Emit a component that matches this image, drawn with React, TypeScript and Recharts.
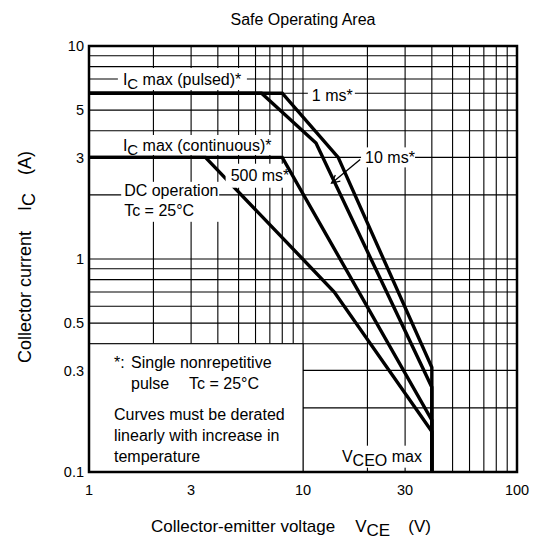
import React from "react";
import {
  LineChart,
  Line,
  XAxis,
  YAxis,
  CartesianGrid,
  ReferenceArea,
  ReferenceDot,
  ReferenceLine,
  Label,
} from "recharts";

// collector-emitter voltage (V) / collector current (A) for each limit curve
const dcV = [1, 3.5, 14, 40, 40];
const dcI = [3, 3, 0.7, 0.155, 0.1];
const ms500V = [1, 8, 40, 40];
const ms500I = [3, 3, 0.175, 0.1];
const ms10V = [1, 6.4, 11.5, 40, 40];
const ms10I = [6, 6, 3.5, 0.25, 0.1];
const ms1V = [1, 8, 14.6, 40, 40];
const ms1I = [6, 6, 3, 0.31, 0.1];

const xTicks = [1, 2, 3, 4, 5, 6, 7, 8, 9, 10, 20, 30, 40, 50, 60, 70, 80, 90, 100];
const xLabels = [1, 3, 10, 30, 100];
const yTicks = [
  0.1, 0.2, 0.3, 0.4, 0.5, 0.6, 0.7, 0.8, 0.9, 1, 2, 3, 4, 5, 6, 7, 8, 9, 10,
];
const yLabels = [0.1, 0.3, 0.5, 1, 3, 5, 10];

const toPoints = (vs: number[], is: number[]) => vs.map((v, k) => ({ v, i: is[k] }));
const series = [
  toPoints(dcV, dcI),
  toPoints(ms500V, ms500I),
  toPoints(ms10V, ms10I),
  toPoints(ms1V, ms1I),
];

const FONT = '"Liberation Sans", Arial, Helvetica, sans-serif';

// white-backed annotation, cx/cy is the text start at its vertical middle
const tag =
  (content: React.ReactNode, w: number, h: number, padL = 5) =>
  (p: any) =>
    (
      <g>
        <rect x={p.cx - padL} y={p.cy - h / 2} width={w} height={h} fill="#fff" />
        <text x={p.cx} y={p.cy} dy="0.35em" fontSize={16} fill="#000" fontFamily={FONT}>
          {content}
        </text>
      </g>
    );

const dcTag = (p: any) => (
  <g fontFamily={FONT} fontSize={16} fill="#000">
    <rect x={p.cx - 3} y={p.cy - 9} width={98} height={40} fill="#fff" />
    <text x={p.cx} y={p.cy} dy="0.35em">DC operation</text>
    <text x={p.cx} y={p.cy + 20} dy="0.35em">Tc = 25°C</text>
  </g>
);

const noteText = (p: any) => (
  <g fontFamily={FONT} fontSize={16} fill="#000">
    <text x={p.cx + 25} y={p.cy + 19} dy="0.35em">*:</text>
    <text x={p.cx + 42} y={p.cy + 19} dy="0.35em">Single nonrepetitive</text>
    <text x={p.cx + 42} y={p.cy + 40} dy="0.35em">pulse</text>
    <text x={p.cx + 100} y={p.cy + 40} dy="0.35em">Tc = 25°C</text>
    <text x={p.cx + 25} y={p.cy + 71} dy="0.35em">Curves must be derated</text>
    <text x={p.cx + 25} y={p.cy + 92} dy="0.35em">linearly with increase in</text>
    <text x={p.cx + 25} y={p.cy + 113} dy="0.35em">temperature</text>
  </g>
);

const arrow = (p: any) => {
  const { x1, y1, x2, y2 } = p;
  const a = Math.atan2(y2 - y1, x2 - x1);
  const L = 9;
  const s = 0.45;
  return (
    <g stroke="#000" strokeWidth={1.3} fill="none">
      <line x1={x1} y1={y1} x2={x2} y2={y2} />
      <polyline
        points={`${x2 - L * Math.cos(a - s)},${y2 - L * Math.sin(a - s)} ${x2},${y2} ${
          x2 - L * Math.cos(a + s)
        },${y2 - L * Math.sin(a + s)}`}
      />
    </g>
  );
};

const xAxisLabel = (p: any) => {
  const { x, y } = p.viewBox;
  return (
    <text x={x + 62} y={y + 60} fontSize={17} fill="#000" fontFamily={FONT}>
      Collector-emitter voltage
      <tspan dx={20}>V</tspan>
      <tspan dy={4}>CE</tspan>
      <tspan dy={-4} dx={18}>(V)</tspan>
    </text>
  );
};

const yAxisLabel = (p: any) => {
  const { y, height } = p.viewBox;
  const cx = 31;
  const cy = y + height / 2 - 2;
  return (
    <text
      x={cx}
      y={cy}
      transform={`rotate(-90 ${cx} ${cy})`}
      textAnchor="middle"
      fontSize={18}
      fill="#000"
      fontFamily={FONT}
    >
      Collector current
      <tspan dx={20}>I</tspan>
      <tspan dy={4}>C</tspan>
      <tspan dy={-4} dx={18}>(A)</tspan>
    </text>
  );
};

export default function App() {
  return (
    <div
      style={{
        position: "absolute",
        left: 0,
        top: 0,
        width: 534,
        height: 543,
        background: "#fff",
        fontFamily: FONT,
      }}
    >
      <div
        style={{
          position: "absolute",
          left: 89,
          width: 428,
          top: 11,
          textAlign: "center",
          fontSize: 16,
          color: "#000",
        }}
      >
        Safe Operating Area
      </div>
      <LineChart width={534} height={543} margin={{ top: 46, right: 17, bottom: 21, left: 29 }}>
        <CartesianGrid stroke="#000" strokeWidth={1.1} />
        <XAxis
          dataKey="v"
          type="number"
          scale="log"
          domain={[1, 100]}
          ticks={xTicks}
          interval={0}
          allowDataOverflow
          tickLine={false}
          axisLine={false}
          tickSize={0}
          tickMargin={13}
          height={50}
          tick={{ fill: "#000", fontSize: 14.5, fontFamily: FONT }}
          tickFormatter={(v: number) => (xLabels.includes(v) ? String(v) : "")}
        >
          <Label content={xAxisLabel} />
        </XAxis>
        <YAxis
          dataKey="i"
          type="number"
          scale="log"
          domain={[0.1, 10]}
          ticks={yTicks}
          interval={0}
          allowDataOverflow
          tickLine={false}
          axisLine={false}
          tickSize={0}
          tickMargin={5}
          width={60}
          tick={{ fill: "#000", fontSize: 14.5, fontFamily: FONT }}
          tickFormatter={(v: number) => (yLabels.includes(v) ? String(v) : "")}
        >
          <Label content={yAxisLabel} />
        </YAxis>

        <ReferenceArea x1={1} x2={10} y1={0.1} y2={0.4} fill="#fff" fillOpacity={1} stroke="#000" strokeWidth={1} />
        <ReferenceDot x={1} y={0.4} r={0} shape={noteText} ifOverflow="visible" />

        {series.map((d, k) => (
          <Line
            key={k}
            data={d}
            dataKey="i"
            type="linear"
            stroke="#000"
            strokeWidth={3.4}
            dot={false}
            activeDot={false}
            isAnimationActive={false}
          />
        ))}

        <ReferenceLine
          segment={[
            { x: 18.5, y: 2.93 },
            { x: 13.6, y: 2.27 },
          ]}
          shape={arrow}
          ifOverflow="visible"
        />

        <ReferenceDot
          x={1.44}
          y={7}
          r={0}
          ifOverflow="visible"
          shape={tag(
            <>
              I<tspan dy={4} fontSize={15}>C</tspan>
              <tspan dy={-4}> max (pulsed)*</tspan>
            </>,
            129,
            22
          )}
        />
        <ReferenceDot
          x={1.44}
          y={3.43}
          r={0}
          ifOverflow="visible"
          shape={tag(
            <>
              I<tspan dy={4} fontSize={15}>C</tspan>
              <tspan dy={-4}> max (continuous)*</tspan>
            </>,
            158,
            20
          )}
        />
        <ReferenceDot x={11} y={5.85} r={0} ifOverflow="visible" shape={tag("1 ms*", 47, 20, 4)} />
        <ReferenceDot x={19.5} y={3} r={0} ifOverflow="visible" shape={tag("10 ms*", 54, 20, 4)} />
        <ReferenceDot x={4.59} y={2.46} r={0} ifOverflow="visible" shape={tag("500 ms*", 58, 24, 5)} />
        <ReferenceDot x={1.46} y={2.09} r={0} ifOverflow="visible" shape={dcTag} />
        <ReferenceDot
          x={15.2}
          y={0.118}
          r={0}
          ifOverflow="visible"
          shape={tag(
            <>
              V<tspan dy={4}>CEO</tspan>
              <tspan dy={-4}> max</tspan>
            </>,
            88,
            22,
            4
          )}
        />

        <ReferenceArea x1={1} x2={100} y1={0.1} y2={10} fill="none" stroke="#000" strokeWidth={2.5} />
      </LineChart>
    </div>
  );
}
